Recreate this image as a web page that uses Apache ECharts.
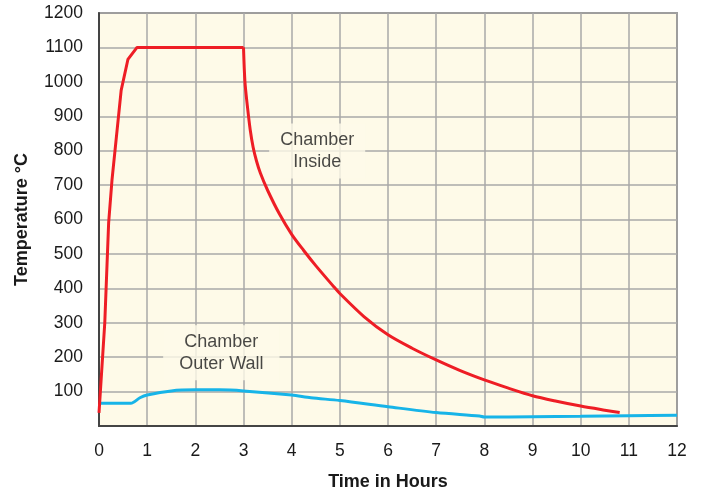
<!DOCTYPE html>
<html><head><meta charset="utf-8">
<script src="https://cdn.jsdelivr.net/npm/echarts@6/dist/echarts.min.js"></script>
<style>html,body{margin:0;padding:0;background:#fff}#c{width:701px;height:490px}</style>
</head><body><div id="c"></div>
<script>
var insideHours = [0, 0.12, 0.2, 0.27, 0.46, 0.6, 0.79, 3.0, 3.03, 3.08, 3.14, 3.2, 3.27, 3.35, 3.5, 3.75, 4.0, 4.25, 4.5, 4.86, 5.0, 5.5, 6.0, 6.5, 7.0, 7.5, 8.0, 8.5, 9.0, 9.5, 10, 10.5, 10.81];
var insideTemp  = [38, 300, 590, 715, 975, 1065, 1100, 1100, 1000, 930, 860, 810, 770, 735, 685, 615, 557, 510, 466, 407, 385, 318, 265, 226, 192, 161, 134, 110, 88, 72, 58, 46, 39];
var wallHours = [0, 0.66, 0.85, 1.0, 1.5, 2, 2.5, 3, 4, 4.4, 5, 6, 7, 7.9, 8.0, 9, 10, 11, 12];
var wallTemp  = [66, 66, 82, 90, 102, 105, 105, 102, 90, 82, 74, 56, 39, 29, 26, 27, 28, 30, 31];
var labelNames = ['Chamber\nInside', 'Chamber\nOuter Wall'];
var labelPos = [[4.53, 799], [2.54, 213]];
var labelPadX = [11, 16];
var xTicks = [0,1,2,3,4,5,6,7,8,9,10,11,12];

function pairs(xs, ys){ return xs.map(function(x,i){ return [x, ys[i]]; }); }
var insidePts = pairs(insideHours, insideTemp);
var splitAt = insideHours.indexOf(3.0);

var chart = echarts.init(document.getElementById('c'));
var font = '"Liberation Sans", Arial, Helvetica, sans-serif';
var bg = '#fefae8';
var redStyle = {color: '#ee1d25', width: 3, join: 'round'};
chart.setOption({
  animation: false,
  grid: {left: 99, right: 24, top: 13, bottom: 64, outerBoundsMode: 'none', containLabel: false,
    show: true, backgroundColor: bg, borderColor: '#555', borderWidth: 1.5},
  xAxis: {
    type: 'value', min: 0, max: 12, interval: 1,
    name: 'Time in Hours', nameLocation: 'middle', nameGap: 47,
    nameTextStyle: {fontFamily: font, fontSize: 18, fontWeight: 'bold', color: '#1a1a1a'},
    axisLine: {lineStyle: {color: '#444', width: 2}},
    axisTick: {show: false},
    axisLabel: {fontFamily: font, fontSize: 17.5, color: '#1a1a1a', margin: 16,
      formatter: function(v){ return xTicks.indexOf(v) >= 0 ? String(v) : ''; }},
    splitLine: {show: true, lineStyle: {color: '#a8a8a8', width: 1.5}}
  },
  yAxis: {
    type: 'value', min: 0, max: 1200, interval: 100,
    name: 'Temperature °C', nameLocation: 'middle', nameGap: 68,
    nameTextStyle: {fontFamily: font, fontSize: 18, fontWeight: 'bold', color: '#1a1a1a'},
    axisLine: {show: true, lineStyle: {color: '#444', width: 2}},
    axisTick: {show: false},
    axisLabel: {fontFamily: font, fontSize: 17.5, color: '#1a1a1a', margin: 16,
      formatter: function(v){ return v === 0 ? '' : String(v); }},
    splitLine: {show: true, lineStyle: {color: '#a8a8a8', width: 1.5}}
  },
  series: [
    {type: 'line', data: pairs(wallHours, wallTemp), smooth: 0.3, symbol: 'none',
      lineStyle: {color: '#17b4e8', width: 3}, z: 3},
    {type: 'line', data: insidePts.slice(0, splitAt + 1), smooth: false, symbol: 'none',
      lineStyle: redStyle, z: 4},
    {type: 'line', data: insidePts.slice(splitAt), smooth: 0.3, symbol: 'none',
      lineStyle: redStyle, z: 4},
    {type: 'scatter', symbolSize: 0, z: 5, silent: true,
      data: labelPos.map(function(p, i){ return {value: p, name: labelNames[i],
        label: {padding: [6, labelPadX[i], 5, labelPadX[i]]}}; }),
      label: {show: true, position: 'inside', formatter: function(p){ return p.name; },
        fontFamily: font, fontSize: 18, lineHeight: 22, color: '#1a1a1a', align: 'center',
        backgroundColor: bg}}
  ]
});
</script></body></html>
